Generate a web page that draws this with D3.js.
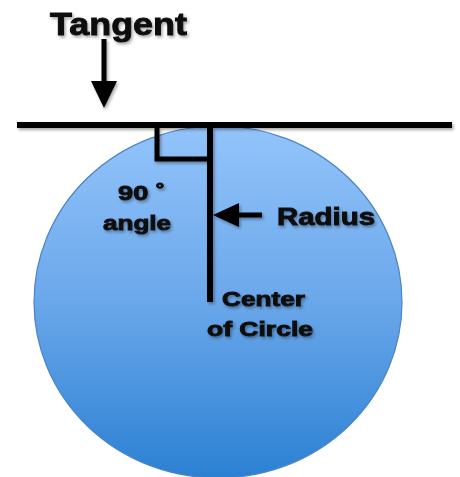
<!DOCTYPE html>
<html>
<head>
<meta charset="utf-8">
<script src="https://cdn.jsdelivr.net/npm/d3@7"></script>
<style>
  body { margin: 0; background: #fff; }
  text { font-family: "Liberation Sans", Arial, sans-serif; font-weight: bold; fill: #111; stroke: #111; stroke-width: 0.9px; }
</style>
</head>
<body>
<script>
// diagram data (in diagram units)
var labels = ["Tangent", "90 \u02da", "angle", "Radius", "Center", "of Circle"];
var circleCenter = [218, 302];
var circleRadii = [184, 176];
var tangentSpan = [17, 452];
var tangentY = 125;
var radiusFoot = 302;
var gradientColors = ["#93c4fb", "#6aa7ea", "#2b80d3"];

var width = 460, height = 477;

var x = d3.scaleLinear().domain([0, 460]).range([0, width]),
    y = d3.scaleLinear().domain([0, 477]).range([0, height]);

var svg = d3.select("body").append("svg")
    .attr("width", width)
    .attr("height", height);

var defs = svg.append("defs");

var grad = defs.append("linearGradient")
    .attr("id", "fill")
    .attr("x1", 0).attr("y1", 0).attr("x2", 0).attr("y2", 1);
grad.selectAll("stop")
  .data(gradientColors)
  .enter().append("stop")
    .attr("offset", function (d, i) { return i / (gradientColors.length - 1); })
    .attr("stop-color", function (d) { return d; });

var shadow = defs.append("filter").attr("id", "shadow")
    .attr("x", "-20%").attr("y", "-20%").attr("width", "140%").attr("height", "140%");
shadow.append("feDropShadow")
    .attr("dx", 1.5).attr("dy", 2).attr("stdDeviation", 1.5)
    .attr("flood-color", "#000").attr("flood-opacity", 0.35);

// circle
svg.append("ellipse")
    .attr("cx", x(circleCenter[0]))
    .attr("cy", y(circleCenter[1]))
    .attr("rx", x(circleRadii[0]) - x(0))
    .attr("ry", y(circleRadii[1]) - y(0))
    .style("fill", "url(#fill)")
    .style("stroke", "#4a84c4")
    .style("stroke-width", 1.2);

var g = svg.append("g").attr("filter", "url(#shadow)");

// tangent line
g.append("line")
    .attr("x1", x(tangentSpan[0])).attr("x2", x(tangentSpan[1]))
    .attr("y1", y(tangentY)).attr("y2", y(tangentY))
    .style("stroke", "#000").style("stroke-width", 6);

// radius
g.append("line")
    .attr("x1", x(210)).attr("x2", x(210))
    .attr("y1", y(tangentY)).attr("y2", y(radiusFoot))
    .style("stroke", "#000").style("stroke-width", 6);

// right angle mark
g.append("path")
    .attr("d", "M" + x(157) + "," + y(tangentY) + "V" + y(159) + "H" + x(210))
    .style("fill", "none").style("stroke", "#000").style("stroke-width", 5);

// arrows
function arrow(x0, y0, x1, y1, head, half) {
  var dx = x1 - x0, dy = y1 - y0, len = Math.sqrt(dx * dx + dy * dy);
  var ux = dx / len, uy = dy / len, bx = x1 - ux * head, by = y1 - uy * head;
  g.append("line")
      .attr("x1", x0).attr("y1", y0).attr("x2", bx).attr("y2", by)
      .style("stroke", "#000").style("stroke-width", 5);
  g.append("path")
      .attr("d", "M" + x1 + "," + y1 +
        "L" + (bx - uy * half) + "," + (by + ux * half) +
        "L" + (bx + uy * half) + "," + (by - ux * half) + "Z")
      .style("fill", "#000");
}
arrow(x(104), y(39), x(104), y(108), 27, 13);
arrow(x(262), y(215), x(213), y(215), 26, 12);

// labels
var labelPos = [
  { x: 50, y: 35, size: 31, w: 137 },
  { x: 118, y: 200, size: 21, w: 47 },
  { x: 103, y: 230, size: 21, w: 68 },
  { x: 277, y: 225, size: 24, w: 98 },
  { x: 222, y: 306, size: 20, w: 83 },
  { x: 207, y: 336, size: 20, w: 106 }
];

g.selectAll(".label")
  .data(labels)
  .enter().append("text")
    .attr("class", "label")
    .attr("x", function (d, i) { return x(labelPos[i].x); })
    .attr("y", function (d, i) { return y(labelPos[i].y); })
    .attr("textLength", function (d, i) { return labelPos[i].w; })
    .attr("lengthAdjust", "spacingAndGlyphs")
    .style("font-size", function (d, i) { return labelPos[i].size + "px"; })
    .text(function (d) { return d; });
</script>
</body>
</html>
